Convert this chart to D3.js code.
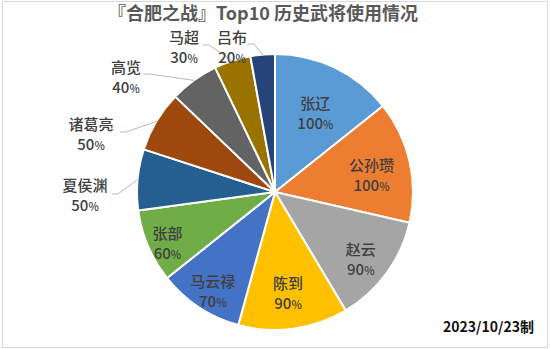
<!DOCTYPE html>
<html>
<head>
<meta charset="utf-8">
<script src="https://cdn.jsdelivr.net/npm/d3@7"></script>
<style>
  html, body { margin: 0; padding: 0; background: #fff; }
  svg { display: block; }
  text { font-family: "Noto Sans CJK SC", "Noto Sans", sans-serif; }
</style>
</head>
<body>
<svg id="chart" width="550" height="349"></svg>
<script>
// Generals and their usage rate (%)
const names = ["张辽", "公孙瓒", "赵云", "陈到", "马云禄", "张部", "夏侯渊", "诸葛亮", "高览", "马超", "吕布"];
const values = [100, 100, 90, 90, 70, 60, 50, 50, 40, 30, 20];
const colors = ["#5B9BD5", "#ED7D31", "#A5A5A5", "#FFC000", "#4472C4", "#70AD47",
                "#255E91", "#9E480E", "#636363", "#997300", "#264478"];
const titleText = "『合肥之战』Top10 历史武将使用情况";
const footText = "2023/10/23制";

const W = 550, H = 349;
const cx = 275, cy = 192, R = 138;

const svg = d3.select("#chart");

// chart frame
svg.append("rect")
  .attr("x", 2.5).attr("y", 1.5).attr("width", W - 5).attr("height", H - 3)
  .attr("fill", "#fff").attr("stroke", "#d9d9d9").attr("stroke-width", 1);

// title
svg.append("text")
  .attr("x", 263).attr("y", 20)
  .attr("text-anchor", "middle")
  .attr("font-size", 18).attr("font-weight", "bold")
  .attr("fill", "#595959")
  .text(titleText);

const data = names.map((n, i) => ({ name: n, value: values[i], color: colors[i] }));

const pie = d3.pie().sort(null).value(d => d.value);
const arcs = pie(data);
const arc = d3.arc().innerRadius(0).outerRadius(R);

const g = svg.append("g").attr("transform", `translate(${cx},${cy})`);

g.selectAll("path.slice")
  .data(arcs)
  .join("path")
  .attr("class", "slice")
  .attr("d", arc)
  .attr("fill", d => d.data.color)
  .attr("stroke", "#fff")
  .attr("stroke-width", 2)
  .attr("stroke-linejoin", "round");

const mid = d => (d.startAngle + d.endAngle) / 2;
const polar = (a, r) => [r * Math.sin(a), -r * Math.cos(a)];

// label text: name on the first line, value with a smaller % on the second
function addLabel(sel, x, y, d, anchor) {
  const t = sel.append("text")
    .attr("text-anchor", anchor)
    .attr("font-size", 15)
    .attr("font-weight", 500)
    .attr("fill", "#404040");
  t.append("tspan").attr("x", x).attr("y", y - 4).text(d.data.name);
  const v = t.append("tspan").attr("x", x).attr("y", y + 16);
  v.append("tspan").text(d.data.value);
  v.append("tspan").attr("font-size", 11).text("%");
}

// inside labels follow each slice's mid angle
const insideRadius = [93, 99, 106, 97, 113, 117];
arcs.slice(0, 6).forEach((d, i) => {
  const [x, y] = polar(mid(d), insideRadius[i]);
  addLabel(g, x, y + 5, d, "middle");
});

// outside labels (relative to chart origin) with leader lines to the rim
const outside = [
  { i: 6, x: 85,  y: 195, lx: 112, ly: 194 },
  { i: 7, x: 91,  y: 134, lx: 120, ly: 132 },
  { i: 8, x: 126, y: 77,  lx: 143, ly: 74 },
  { i: 9, x: 184, y: 47,  lx: 203, ly: 45 },
  { i: 10, x: 232, y: 47, lx: 248, ly: 44 }
];
outside.forEach(o => {
  const d = arcs[o.i];
  const [ex, ey] = polar(mid(d), R);
  svg.append("path")
    .attr("d", d3.line()([[o.lx, o.ly], [o.lx + 6, o.ly], [cx + ex, cy + ey]]))
    .attr("fill", "none")
    .attr("stroke", "#a6a6a6")
    .attr("stroke-width", 0.8);
  addLabel(svg, o.x, o.y, d, "middle");
});

// date stamp
svg.append("text")
  .attr("x", 534).attr("y", 332)
  .attr("text-anchor", "end")
  .attr("font-size", 14).attr("font-weight", "bold")
  .attr("fill", "#111")
  .text(footText);
</script>
</body>
</html>
